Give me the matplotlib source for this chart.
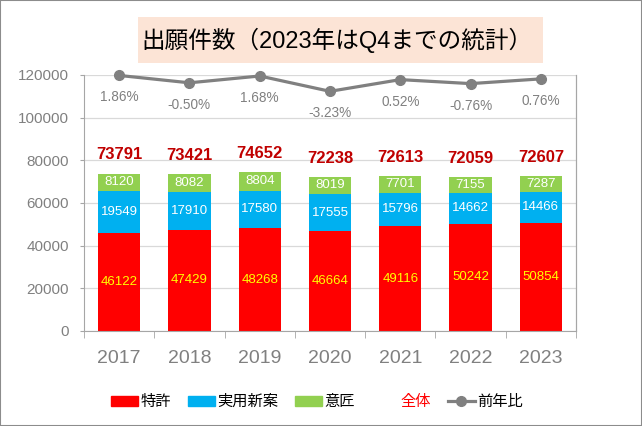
import matplotlib
matplotlib.use('Agg')
import matplotlib.pyplot as plt
import numpy as np
from matplotlib.patches import Patch, Rectangle
from matplotlib.lines import Line2D

plt.rcParams['font.family'] = ['Liberation Sans', 'Noto Sans CJK JP']

years = ['2017', '2018', '2019', '2020', '2021', '2022', '2023']
patent = [46122, 47429, 48268, 46664, 49116, 50242, 50854]
utility = [19549, 17910, 17580, 17555, 15796, 14662, 14466]
design = [8120, 8082, 8804, 8019, 7701, 7155, 7287]
total = [73791, 73421, 74652, 72238, 72613, 72059, 72607]
yoy = [1.86, -0.50, 1.68, -3.23, 0.52, -0.76, 0.76]

RED, BLUE, GREEN, GRAY = '#FF0000', '#00B0F0', '#92D050', '#808080'

fig = plt.figure(figsize=(6.42, 4.26), dpi=100)
ax = fig.add_axes([84/642, 1-331/426, 492/642, 256/426])
x = np.arange(len(years))
w = 0.6
p = np.array(patent); u = np.array(utility); d = np.array(design)
ax.bar(x, p, w, color=RED, zorder=2)
ax.bar(x, u, w, bottom=p, color=BLUE, zorder=2)
ax.bar(x, d, w, bottom=p+u, color=GREEN, zorder=2)

for i in range(len(x)):
    ax.text(x[i], p[i]/2, str(p[i]), ha='center', va='center', color='#FFFF00', fontsize=9.5, zorder=3)
    ax.text(x[i], p[i]+u[i]/2, str(u[i]), ha='center', va='center', color='white', fontsize=9.5, zorder=3)
    ax.text(x[i], p[i]+u[i]+d[i]/2, str(d[i]), ha='center', va='center', color='white', fontsize=9.5, zorder=3)
    ax.annotate(str(total[i]), (x[i], total[i]), xytext=(0, 13.4), textcoords='offset points',
                ha='center', va='center', color='#C00000', fontsize=12, fontweight='bold')

ax.set_xlim(-0.5, len(x)-0.5)
ax.set_ylim(0, 120000)
ax.set_yticks(range(0, 120001, 20000))
ax.yaxis.grid(True, color='#D9D9D9', lw=0.9, zorder=0)
ax.set_axisbelow(True)
ax.set_xticks(x)
ax.set_xticklabels(years)
ax.set_xticks(np.arange(-0.5, len(x)), minor=True)
ax.tick_params(axis='x', which='major', length=0, pad=14, labelsize=14, labelcolor=GRAY)
ax.tick_params(axis='x', which='minor', length=5, color='#A6A6A6', direction='out')
ax.tick_params(axis='y', length=3, color='#A6A6A6', labelsize=11, labelcolor=GRAY, pad=8)
for s in ['left', 'bottom', 'right']:
    ax.spines[s].set_color('#A6A6A6')
ax.spines['top'].set_visible(False)

ax2 = ax.twinx()
ax2.plot(x, np.array(yoy)/100, color=GRAY, lw=2.3, marker='o', ms=7, zorder=4, clip_on=False)
ax2.set_ylim(-0.80, 0.02)
ax2.set_yticks([])
ax2.spines['top'].set_visible(False)
ax2.spines['right'].set_color('#A6A6A6')
ax2.spines['left'].set_visible(False)
ax2.spines['bottom'].set_visible(False)
for i in range(len(x)):
    ax2.annotate(f'{yoy[i]:.2f}%', (x[i], yoy[i]/100), xytext=(0, -15.8), textcoords='offset points',
                 ha='center', va='center', color=GRAY, fontsize=9.8)

# title box
fig.patches.append(Rectangle((138/642, 1-63/426), (543-138)/642, 46/426, transform=fig.transFigure,
                             facecolor='#FCE4D6', edgecolor='none', zorder=0))
fig.text(337/642, 1-40/426, '出願件数（2023年はQ4までの統計）', ha='center', va='center', fontsize=17)

handles = [Patch(color=RED), Patch(color=BLUE), Patch(color=GREEN),
           Line2D([], [], color='none'),
           Line2D([], [], color=GRAY, lw=2.3, marker='o', ms=7)]
labels = ['特許', '実用新案', '意匠', '全体', '前年比']
leg = fig.legend(handles, labels, loc='center', bbox_to_anchor=(317/642, 1-402/426), ncol=5,
                 frameon=False, fontsize=11, handlelength=1.76, handleheight=0.65,
                 handletextpad=0.15, columnspacing=1.1)
leg.get_texts()[3].set_color('red')

fig.patches.append(Rectangle((0, 0), 1, 1, transform=fig.transFigure, fill=False,
                             edgecolor='#8C8C8C', lw=1.5))

fig.savefig('out.png', dpi=100)
